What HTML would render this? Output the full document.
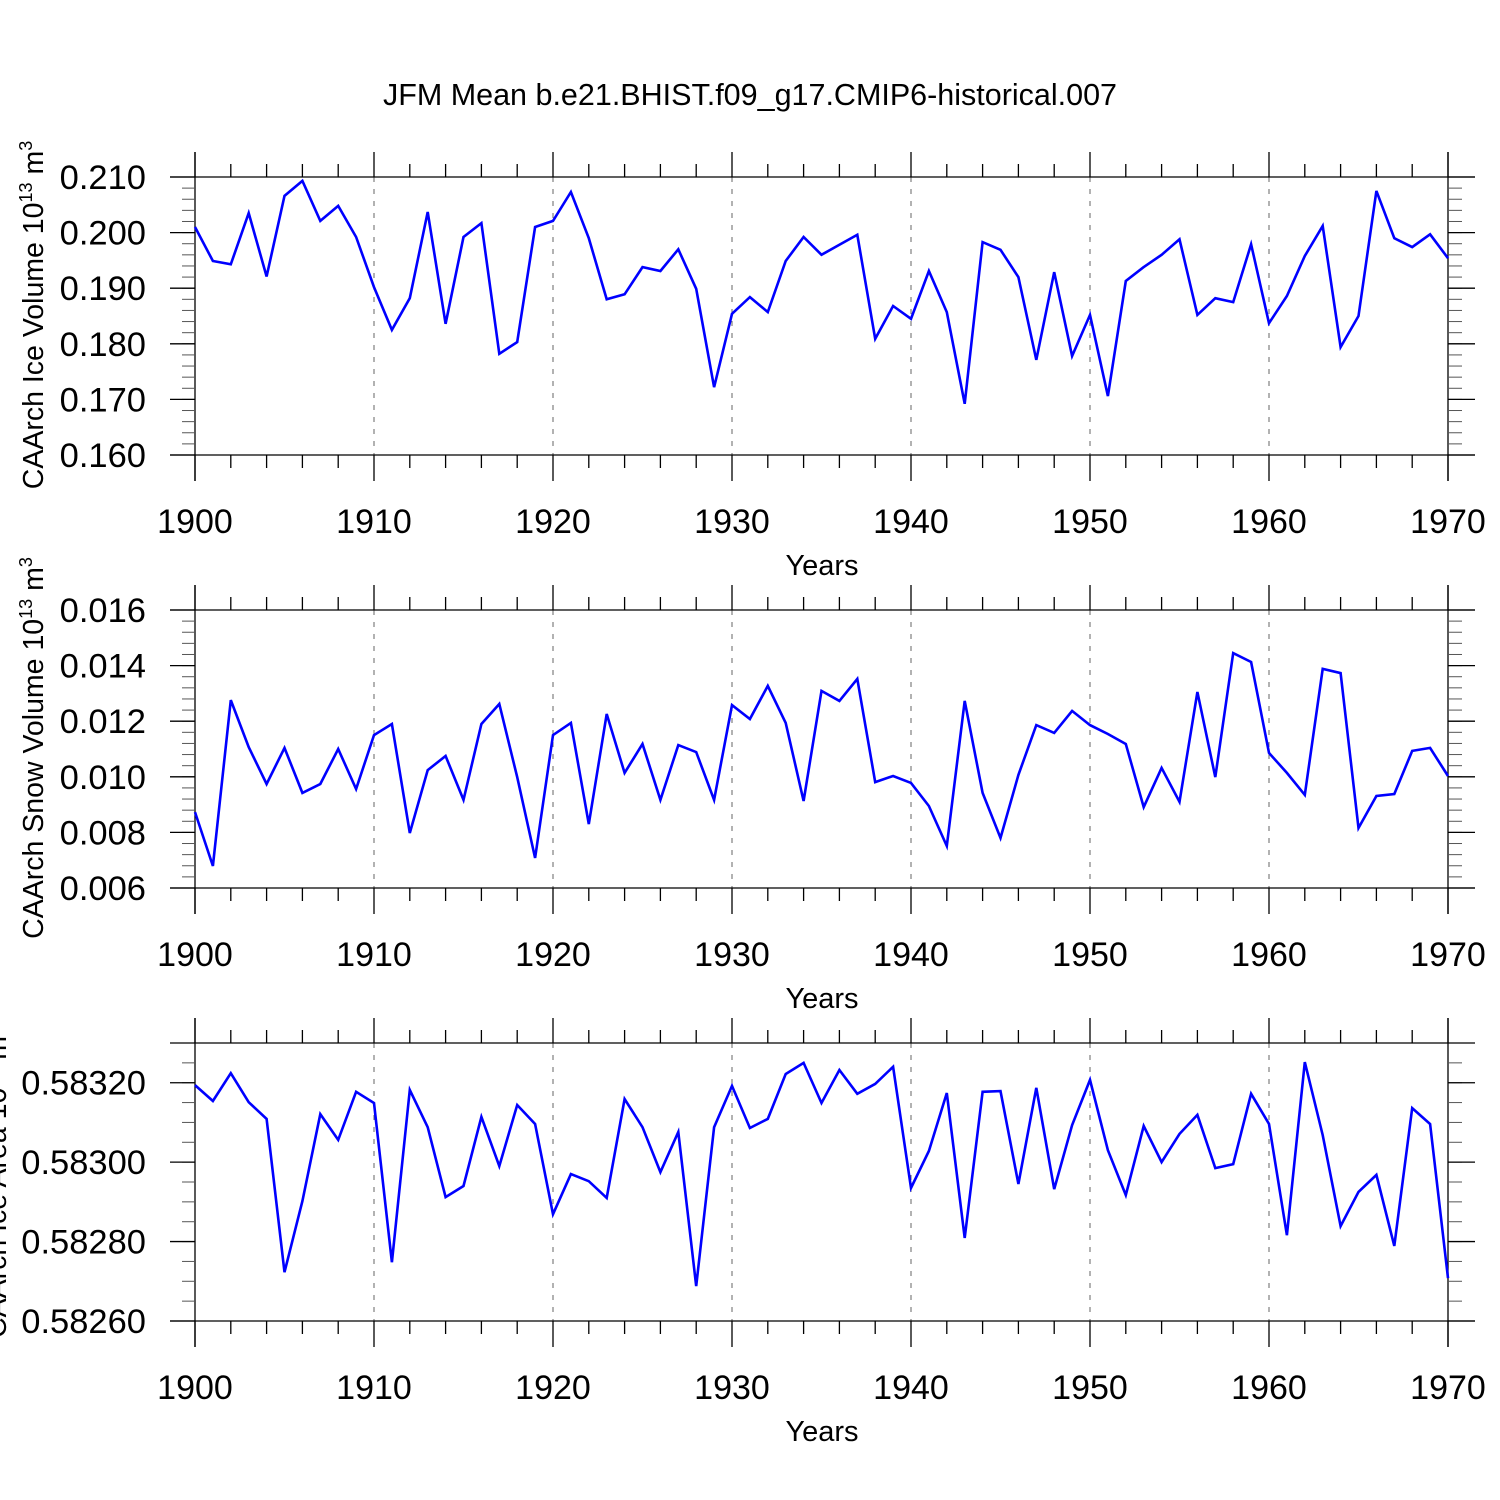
<!DOCTYPE html>
<html><head><meta charset="utf-8"><style>
html,body{margin:0;padding:0;background:#fff;}
svg{display:block;font-family:"Liberation Sans",sans-serif;}
</style></head><body>
<svg id="chart" width="1500" height="1500" viewBox="0 0 1500 1500" xmlns="http://www.w3.org/2000/svg">
<text x="750" y="105" font-size="30.5" text-anchor="middle">JFM Mean b.e21.BHIST.f09_g17.CMIP6-historical.007</text>
</svg>
<script>
const years = [];
for (let y = 1900; y <= 1970; y++) years.push(y);
const xTickLabels = ["1900","1910","1920","1930","1940","1950","1960","1970"];
const iceVolume = [0.2010,0.1949,0.1943,0.2035,0.1921,0.2066,0.2093,0.2021,0.2048,0.1992,0.1902,0.1825,0.1882,0.2037,0.1836,0.1992,0.2017,0.1782,0.1803,0.2010,0.2021,0.2073,0.1990,0.1880,0.1889,0.1938,0.1931,0.1970,0.1899,0.1722,0.1854,0.1884,0.1857,0.1949,0.1992,0.1960,0.1978,0.1996,0.1809,0.1868,0.1845,0.1931,0.1857,0.1692,0.1983,0.1969,0.1920,0.1771,0.1929,0.1778,0.1852,0.1706,0.1913,0.1938,0.1960,0.1988,0.1852,0.1882,0.1875,0.1979,0.1837,0.1886,0.1958,0.2012,0.1794,0.1850,0.2075,0.1990,0.1974,0.1997,0.1954];
const snowVolume = [0.00873,0.00679,0.01276,0.01107,0.00974,0.01104,0.00942,0.00974,0.01100,0.00956,0.01150,0.01190,0.00798,0.01024,0.01075,0.00917,0.01190,0.01262,0.00999,0.00708,0.01150,0.01194,0.00830,0.01226,0.01014,0.01118,0.00917,0.01114,0.01089,0.00917,0.01258,0.01208,0.01327,0.01194,0.00913,0.01309,0.01273,0.01352,0.00981,0.01003,0.00978,0.00895,0.00751,0.01273,0.00942,0.00780,0.01007,0.01186,0.01158,0.01237,0.01186,0.01154,0.01118,0.00891,0.01032,0.00910,0.01305,0.00999,0.01445,0.01413,0.01086,0.01014,0.00935,0.01388,0.01373,0.00816,0.00931,0.00938,0.01093,0.01104,0.01003];
const iceArea = [0.583194,0.583154,0.583224,0.583151,0.583109,0.582723,0.582902,0.583121,0.583056,0.583177,0.583149,0.582748,0.583182,0.583088,0.582912,0.582940,0.583114,0.582990,0.583144,0.583096,0.582869,0.582970,0.582952,0.582910,0.583159,0.583088,0.582975,0.583076,0.582688,0.583088,0.583192,0.583086,0.583109,0.583222,0.583250,0.583149,0.583232,0.583172,0.583197,0.583240,0.582935,0.583028,0.583174,0.582809,0.583177,0.583179,0.582945,0.583187,0.582932,0.583093,0.583207,0.583030,0.582917,0.583091,0.583000,0.583071,0.583119,0.582985,0.582995,0.583172,0.583096,0.582816,0.583252,0.583068,0.582839,0.582925,0.582968,0.582789,0.583136,0.583096,0.582708];
const iceVolTicks = ["0.160","0.170","0.180","0.190","0.200","0.210"];
const snowTicks = ["0.006","0.008","0.010","0.012","0.014","0.016"];
const areaTicks = ["0.58260","0.58280","0.58300","0.58320"];

const svg = document.getElementById('chart');
const NS = 'http://www.w3.org/2000/svg';
const X0 = 195, X1 = 1448;
function xScale(yr){ return X0 + (yr - 1900) * (X1 - X0) / 70; }
function mk(tag, attrs, parent){
  const e = document.createElementNS(NS, tag);
  for (const k in attrs) e.setAttribute(k, attrs[k]);
  (parent || svg).appendChild(e);
  return e;
}
function line(g, x1, y1, x2, y2, w, col, dash){
  const l = mk('line', {x1:x1, y1:y1, x2:x2, y2:y2, stroke:col||'#000', 'stroke-width':w||1.3}, g);
  if (dash) l.setAttribute('stroke-dasharray', dash);
  
  
  return l;
}
function panel(name, top, bottom, vmin, vmax, data, tickLabels, minorStep, labelParts, labelX, labelY){
  const g = mk('g', {});
  
  
  const yS = v => bottom - (v - vmin) * (bottom - top) / (vmax - vmin);
  for (let yr = 1910; yr <= 1960; yr += 10) line(g, xScale(yr), top, xScale(yr), bottom, 1, '#666', '5,7');
  line(g, X0, top - 25, X0, bottom + 26);
  line(g, X1, top - 25, X1, bottom + 26);
  line(g, 170, top, 1475, top);
  line(g, 170, bottom, 1475, bottom);
  for (let yr = 1900; yr <= 1970; yr += 2) {
    const x = xScale(yr), major = yr % 10 === 0;
    line(g, x, top - (major ? 25 : 13), x, top);
    line(g, x, bottom, x, bottom + (major ? 26 : 13));
  }
  xTickLabels.forEach(t => {
    const tx = mk('text', {x: xScale(+t), y: bottom + 78, 'font-size': 34, 'text-anchor': 'middle'}, g);
    tx.textContent = t;
    
    
  });
  const xt = mk('text', {x: 822, y: bottom + 120, 'font-size': 29, 'text-anchor': 'middle'}, g);
  xt.textContent = 'Years';
  
  
  const nMinor = Math.round((vmax - vmin) / minorStep);
  for (let i = 1; i < nMinor; i++) {
    const y = yS(vmin + i * minorStep);
    line(g, X0 - 13, y, X0, y, 1, '#555');
    line(g, X1, y, X1 + 14, y, 1, '#555');
  }
  tickLabels.forEach(t => {
    const y = yS(parseFloat(t));
    line(g, 170, y, X0, y);
    line(g, X1, y, 1475, y);
    const tx = mk('text', {x: 146, y: y + 12, 'font-size': 34.5, 'text-anchor': 'end'}, g);
    tx.textContent = t;
    
    
  });
  const pts = data.map((v, i) => xScale(years[i]).toFixed(1) + ',' + yS(v).toFixed(1)).join(' ');
  const pl = mk('polyline', {points: pts, fill: 'none', stroke: '#0000ff', 'stroke-width': 2.6, 'stroke-linejoin': 'miter'}, g);
  
  
  const lt = mk('text', {x: 0, y: 0, 'font-size': 28.5, 'text-anchor': 'middle', transform: 'translate(' + labelX + ',' + labelY + ') rotate(-90)'}, g);
  
  
  lt.innerHTML = labelParts;
}
panel('ice-volume-panel', 177, 455, 0.160, 0.210, iceVolume, iceVolTicks, 0.002,
  'CAArch Ice Volume 10<tspan dy="-11" font-size="18">13</tspan><tspan dy="11"> m</tspan><tspan dy="-11" font-size="18">3</tspan>', 43, 315);
panel('snow-volume-panel', 610, 888, 0.006, 0.016, snowVolume, snowTicks, 0.0004,
  'CAArch Snow Volume 10<tspan dy="-11" font-size="18">13</tspan><tspan dy="11"> m</tspan><tspan dy="-11" font-size="18">3</tspan>', 43, 748);
panel('ice-area-panel', 1043, 1321, 0.58260, 0.58330, iceArea, areaTicks, 0.00005,
  'CAArch Ice Area 10<tspan dy="-11" font-size="18">13</tspan><tspan dy="11"> m</tspan><tspan dy="-11" font-size="18">2</tspan>', 6, 1182);
</script>
</body></html>
